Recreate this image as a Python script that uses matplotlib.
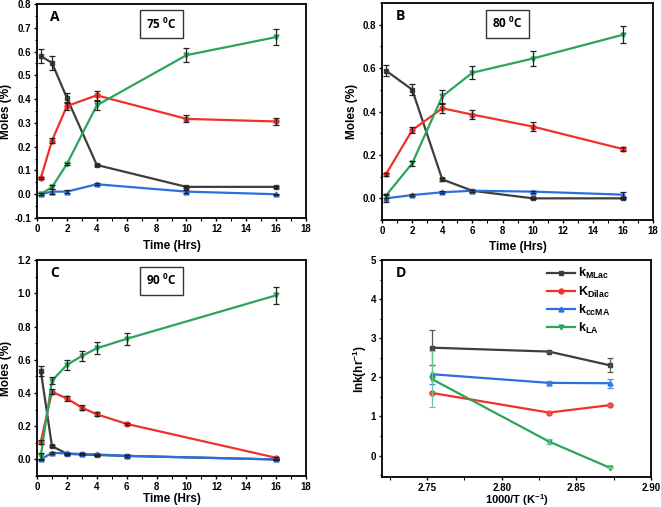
import matplotlib
matplotlib.use("Agg")
import matplotlib.pyplot as plt
import numpy as np
from matplotlib.ticker import MultipleLocator, FormatStrFormatter
from matplotlib.lines import Line2D

plt.rcParams['font.family'] = ['Liberation Sans', 'DejaVu Sans']
plt.rcParams['font.weight'] = 'bold'
plt.rcParams['mathtext.default'] = 'regular'

C_ML = '#3d3d3d'
C_DI = '#f2302a'
C_CC = '#2a6fe0'
C_LA = '#2aa55a'

# Panel A (75 C)
tA = [0.25, 1, 2, 4, 10, 16]
A_mlac = [0.581, 0.553, 0.405, 0.123, 0.031, 0.031]
A_mlac_err = [0.03, 0.03, 0.02, 0.005, 0.005, 0.004]
A_dilac = [0.067, 0.225, 0.371, 0.416, 0.317, 0.306]
A_dilac_err = [0.005, 0.01, 0.015, 0.02, 0.015, 0.015]
A_ccma = [0.0, 0.011, 0.011, 0.042, 0.011, 0.0]
A_ccma_err = [0.005, 0.01, 0.005, 0.005, 0.005, 0.003]
A_la = [0.0, 0.03, 0.127, 0.374, 0.585, 0.661]
A_la_err = [0.005, 0.01, 0.006, 0.02, 0.03, 0.033]

# Panel B (80 C)
tB = [0.25, 2, 4, 6, 10, 16]
B_mlac = [0.589, 0.501, 0.087, 0.035, 0.0, 0.0]
B_mlac_err = [0.025, 0.025, 0.005, 0.005, 0.003, 0.003]
B_dilac = [0.11, 0.314, 0.415, 0.386, 0.331, 0.227]
B_dilac_err = [0.005, 0.015, 0.02, 0.02, 0.02, 0.008]
B_ccma = [0.0, 0.015, 0.028, 0.035, 0.031, 0.017]
B_ccma_err = [0.015, 0.005, 0.005, 0.005, 0.005, 0.01]
B_la = [0.012, 0.161, 0.47, 0.579, 0.644, 0.754]
B_la_err = [0.01, 0.01, 0.03, 0.03, 0.033, 0.04]

# Panel C (90 C)
tC = [0.25, 1, 2, 3, 4, 6, 16]
C_mlac = [0.534, 0.08, 0.034, 0.03, 0.027, 0.021, 0.0]
C_mlac_err = [0.03, 0.005, 0.005, 0.005, 0.005, 0.005, 0.003]
C_dilac = [0.105, 0.407, 0.367, 0.312, 0.272, 0.214, 0.01]
C_dilac_err = [0.01, 0.015, 0.015, 0.015, 0.012, 0.008, 0.005]
C_ccma = [0.0, 0.04, 0.036, 0.033, 0.03, 0.022, 0.0]
C_ccma_err = [0.003, 0.005, 0.005, 0.005, 0.005, 0.005, 0.003]
C_la = [0.02, 0.474, 0.569, 0.623, 0.669, 0.726, 0.988]
C_la_err = [0.02, 0.02, 0.03, 0.03, 0.035, 0.035, 0.05]

# Panel D (Arrhenius)
temps_K = [363.15, 353.15, 348.15]
D_mlac = [2.76, 2.66, 2.31]
D_mlac_err = [0.45, 0.02, 0.18]
D_dilac = [1.60, 1.10, 1.29]
D_dilac_err = [0.03, 0.03, 0.03]
D_ccma = [2.08, 1.86, 1.85]
D_ccma_err = [0.24, 0.05, 0.12]
D_la = [1.95, 0.36, -0.31]
D_la_err = [0.72, 0.06, 0.02]
legend_labels = ['k$_{MLac}$', 'K$_{Dilac}$', 'k$_{ccMA}$', 'k$_{LA}$']

fig = plt.figure(figsize=(6.61, 5.07), dpi=100)

axA = fig.add_axes([0.056, 0.570, 0.407, 0.422])
axB = fig.add_axes([0.578, 0.566, 0.410, 0.428])
axC = fig.add_axes([0.056, 0.061, 0.407, 0.426])
axD = fig.add_axes([0.578, 0.059, 0.407, 0.428])

def series(ax, x, y, e, color, marker, ecolor='#222222'):
    ax.plot(x, y, color=color, lw=1.6, marker=marker, ms=3.5, zorder=2)
    ax.errorbar(x, y, yerr=e, fmt='none', ecolor=ecolor, elinewidth=0.9,
                capsize=2.2, capthick=0.9, zorder=3)

def style(ax):
    for s in ax.spines.values():
        s.set_linewidth(1.3)
    ax.tick_params(which='major', direction='out', length=2.5, width=1,
                   labelsize=7, pad=1.8)
    ax.tick_params(which='minor', direction='out', length=1.8, width=0.8)
    for lbl in ax.get_xticklabels() + ax.get_yticklabels():
        lbl.set_fontweight('bold')

def kinetic(ax, t, ml, mle, di, die, cc, cce, la, lae, ylim, ymaj, ymin, label, temp, ylx, xly):
    series(ax, t, ml, mle, C_ML, 's')
    series(ax, t, di, die, C_DI, 'o')
    series(ax, t, cc, cce, C_CC, '^')
    series(ax, t, la, lae, C_LA, 'v')
    ax.set_xlim(0, 18)
    ax.set_ylim(*ylim)
    ax.xaxis.set_major_locator(MultipleLocator(2))
    ax.xaxis.set_minor_locator(MultipleLocator(1))
    ax.yaxis.set_major_locator(MultipleLocator(ymaj))
    ax.yaxis.set_minor_locator(MultipleLocator(ymin))
    ax.yaxis.set_major_formatter(FormatStrFormatter('%.1f'))
    ax.set_xlabel('Time (Hrs)', fontsize=8.5, fontweight='bold')
    ax.set_ylabel('Moles (%)', fontsize=8.5, fontweight='bold')
    ax.xaxis.set_label_coords(0.5, xly)
    ax.yaxis.set_label_coords(ylx, 0.5)
    ax.text(0.05, 0.94, label, transform=ax.transAxes, fontsize=10,
            fontweight='bold', va='center', ha='left', family=['Open Sans', 'DejaVu Sans'])
    ax.text(0.463, 0.905, temp, transform=ax.transAxes, fontsize=8.5,
            fontweight='bold', va='center', ha='center', family=['Open Sans', 'DejaVu Sans'],
            bbox=dict(boxstyle='square,pad=0.55', fc='white', ec='#333333', lw=1))
    style(ax)

kinetic(axA, tA, A_mlac, A_mlac_err, A_dilac, A_dilac_err, A_ccma, A_ccma_err,
        A_la, A_la_err, (-0.1, 0.8), 0.1, 0.05, 'A', '75 $^{0}$C', -0.092, -0.105)
kinetic(axB, tB, B_mlac, B_mlac_err, B_dilac, B_dilac_err, B_ccma, B_ccma_err,
        B_la, B_la_err, (-0.1, 0.9), 0.2, 0.1, 'B', '80 $^{0}$C', -0.09, -0.095)
kinetic(axC, tC, C_mlac, C_mlac_err, C_dilac, C_dilac_err, C_ccma, C_ccma_err,
        C_la, C_la_err, (-0.1, 1.2), 0.2, 0.1, 'C', '90 $^{0}$C', -0.092, -0.08)

# Panel D
invT = [1000.0 / T for T in temps_K]
series(axD, invT, D_mlac, D_mlac_err, C_ML, 's', ecolor='#555555')
series(axD, invT, D_dilac, D_dilac_err, C_DI, 'o', ecolor='#f05a55')
series(axD, invT, D_ccma, D_ccma_err, C_CC, '^', ecolor='#4a88e8')
series(axD, invT, D_la, D_la_err, C_LA, 'v', ecolor='#6cc790')
axD.set_xlim(2.72, 2.90)
axD.set_ylim(-0.55, 5)
axD.xaxis.set_major_locator(MultipleLocator(0.05))
axD.xaxis.set_minor_locator(MultipleLocator(0.025))
axD.yaxis.set_major_locator(MultipleLocator(1))
axD.yaxis.set_minor_locator(MultipleLocator(0.5))
axD.xaxis.set_major_formatter(FormatStrFormatter('%.2f'))
axD.set_xlabel('1000/T (K$^{-1}$)', fontsize=8, fontweight='bold')
axD.set_ylabel('lnk(hr$^{-1}$)', fontsize=8.5, fontweight='bold')
axD.xaxis.set_label_coords(0.5, -0.07)
axD.yaxis.set_label_coords(-0.048, 0.5)
axD.text(0.05, 0.94, 'D', transform=axD.transAxes, fontsize=10,
         fontweight='bold', va='center', ha='left', family=['Open Sans', 'DejaVu Sans'])
handles = [Line2D([], [], color=C_ML, marker='s', ms=3.5, lw=1.6),
           Line2D([], [], color=C_DI, marker='o', ms=3.5, lw=1.6),
           Line2D([], [], color=C_CC, marker='^', ms=3.5, lw=1.6),
           Line2D([], [], color=C_LA, marker='v', ms=3.5, lw=1.6)]
leg = axD.legend(handles, legend_labels, loc='upper left', frameon=False,
                 fontsize=9, handlelength=2.2, handletextpad=0.3,
                 labelspacing=0.25, borderaxespad=0.0,
                 bbox_to_anchor=(0.595, 0.995))
for t in leg.get_texts():
    t.set_fontweight('bold')
style(axD)

fig.savefig('out.png', dpi=100)
